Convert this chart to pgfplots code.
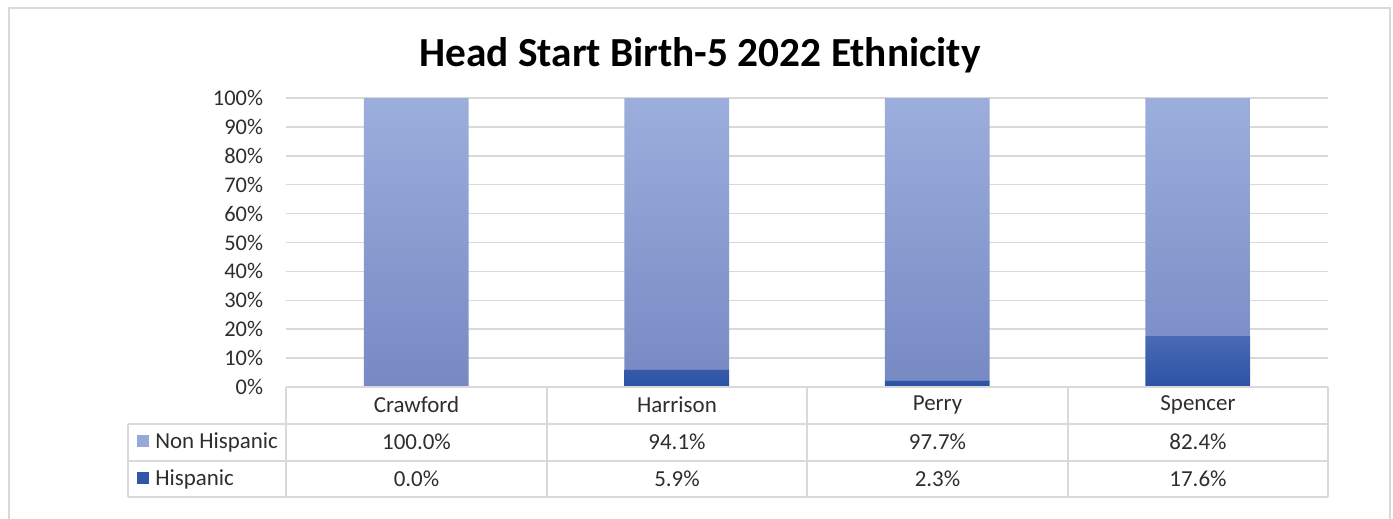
\documentclass[border=0pt]{standalone}
\usepackage{pgfplots}
\pgfplotsset{compat=1.18}
\usepackage{fontspec}
\setmainfont{Carlito}
\definecolor{gridgray}{HTML}{D9D9D9}
\definecolor{nhtop}{HTML}{9CAEDC}
\definecolor{nhbot}{HTML}{7689C3}
\definecolor{htop}{HTML}{4A6AB4}
\definecolor{hbot}{HTML}{2B53A4}
\definecolor{nhleg}{HTML}{97A8D8}
\definecolor{hleg}{HTML}{2F56A8}
\definecolor{txt}{HTML}{2E2E2E}
\definecolor{shadowgray}{HTML}{E4E4E4}
\begin{document}
\begin{tikzpicture}
\begin{scope}[x=0.75pt,y=-0.75pt]
\useasboundingbox (0,0) rectangle (1393,518);
\fill[white] (0,0) rectangle (1393,518);
\draw[gridgray, line width=1.5pt] (9,530) -- (9,8) -- (1390,8) -- (1390,530);
\node[font=\fontsize{31}{31}\selectfont\bfseries, text=black] at (700,55) {Head Start Birth-5 2022 Ethnicity};
\end{scope}
\begin{axis}[
  at={(214.5pt,-290.25pt)}, anchor=south west,
  scale only axis, width=781.5pt, height=216.75pt,
  xmin=-0.5, xmax=3.5, ymin=0, ymax=100,
  ybar stacked, bar width=0.403,
  xtick=\empty,
  ytick={0,10,...,100},
  /pgf/number format/assume math mode=true,
  yticklabel={\pgfmathprintnumber{\tick}\%},
  yticklabel style={inner sep=0pt, xshift=-17pt, font=\fontsize{16.8}{16.8}\selectfont, text=txt},
  ymajorgrids, grid style={gridgray, line width=1.1pt},
  axis line style={draw=none}, major tick style={draw=none},
  clip=false,
]
\addplot[draw=none, top color=htop, bottom color=hbot] coordinates {(0,0) (1,5.9) (2,2.3) (3,17.6)};
\addplot[draw=none, top color=nhtop, bottom color=nhbot] coordinates {(0,100) (1,94.1) (2,97.7) (3,82.4)};
\end{axis}
\begin{scope}[x=0.75pt,y=-0.75pt]
\begin{scope}[gridgray, line width=1.5pt]
\draw (286,387) -- (1328,387);
\draw (128,424) -- (1328,424);
\draw (128,461) -- (1328,461);
\draw (128,497) -- (1328,497);
\draw (128,424) -- (128,497);
\foreach \xx in {286,547,807,1068,1328} \draw (\xx,387) -- (\xx,497);
\end{scope}
\begin{scope}[font=\fontsize{17.2}{17.2}\selectfont, text=txt]
\node at (416.5,405) {Crawford};
\node at (677,405) {Harrison};
\node at (937.5,405) {Perry};
\node at (1198,405) {Spencer};
\node at (416.5,442) {100.0\%};
\node at (677,442) {94.1\%};
\node at (937.5,442) {97.7\%};
\node at (1198,442) {82.4\%};
\node at (416.5,479) {0.0\%};
\node at (677,479) {5.9\%};
\node at (937.5,479) {2.3\%};
\node at (1198,479) {17.6\%};
\fill[nhleg] (137,435) rectangle (149,447);
\fill[hleg] (137,472) rectangle (149,484);
\node[anchor=west, inner sep=0pt] at (155,442) {Non Hispanic};
\node[anchor=west, inner sep=0pt] at (155,479) {Hispanic};
\end{scope}
\end{scope}
\end{tikzpicture}
\end{document}
